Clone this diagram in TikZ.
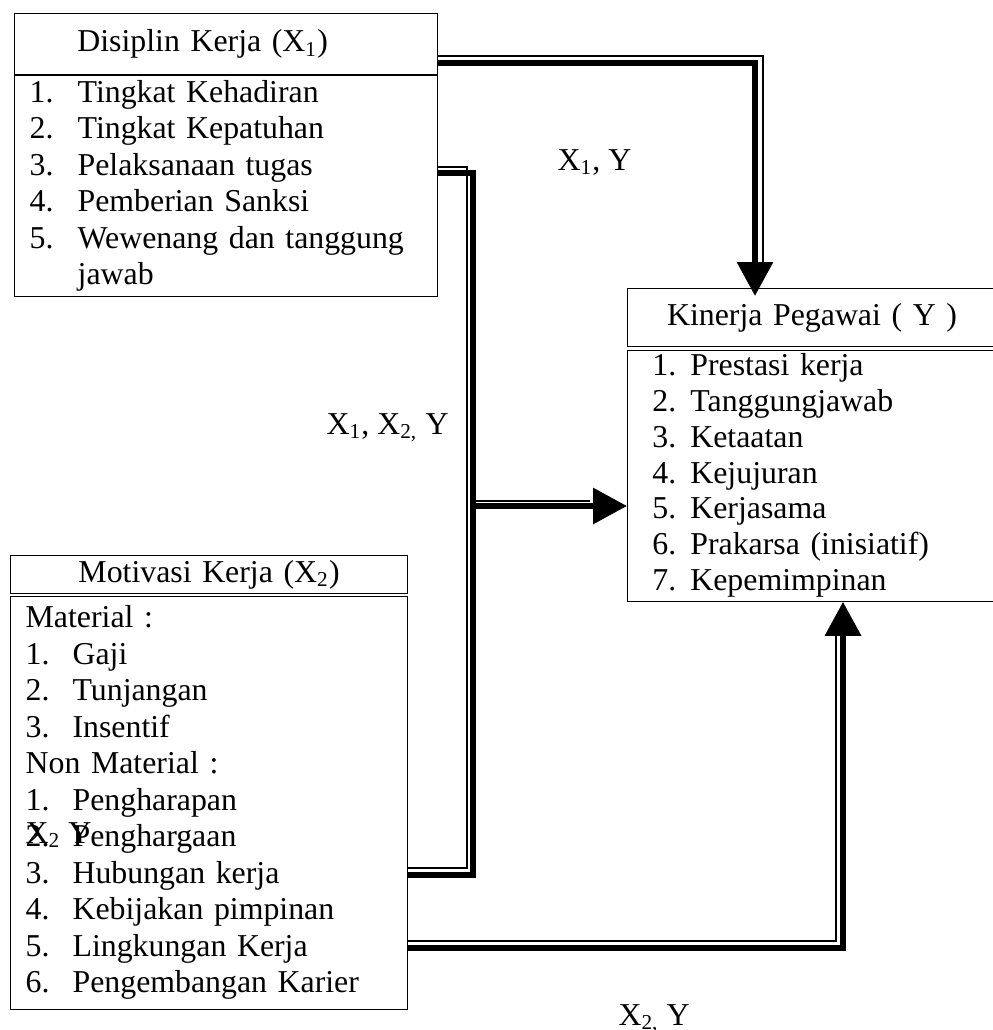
\documentclass[tikz,border=0pt]{standalone}
\usepackage{fontspec}
\setmainfont{Liberation Serif}
\usetikzlibrary{positioning,arrows.meta}

\begin{document}
\begin{tikzpicture}[
  x=0.377pt, y=-0.377pt,
  font=\fontsize{12}{13.75}\selectfont,
  head/.style={draw, anchor=north west, inner sep=0pt, align=center},
  body/.style={draw, anchor=north west, inner ysep=0pt, inner xsep=5.7pt, align=left},
  lbl/.style={anchor=base west, inner sep=0pt},
  thn/.style={line width=0.5pt},
  thk/.style={line width=2.3pt},
  arr/.style={thk, -{Triangle[length=12.8pt, width=13.2pt]}}]
\useasboundingbox (0,0) rectangle (992,1030);
% variable boxes
\node[head, text width=159.5pt, minimum height=23pt, align=left] (x1head) at (14,13) {\hspace*{23.7pt}Disiplin Kerja (X\textsubscript{1})};
\node[body, text width=148.1pt, minimum height=83.3pt, below=0pt of x1head.south west, anchor=north west] (x1body) {%
  \begin{tabular}{@{}p{18.1pt}@{}l@{}}
  1. & Tingkat Kehadiran\\
  2. & Tingkat Kepatuhan\\
  3. & Pelaksanaan tugas\\
  4. & Pemberian Sanksi\\
  5. & Wewenang dan tanggung\\
     & jawab
  \end{tabular}};
\node[head, text width=139.1pt, minimum height=21.9pt] (yhead) at (627,288) {Kinerja Pegawai ( Y )};
\node[body, font=\fontsize{12}{13.5}\selectfont, inner xsep=9.4pt, text width=120.3pt, minimum height=93.9pt, below=1.1pt of yhead.south west, anchor=north west] (ybody) {%
  \begin{tabular}{@{}p{14.3pt}@{}l@{}}
  1. & Prestasi kerja\\
  2. & Tanggungjawab\\
  3. & Ketaatan\\
  4. & Kejujuran\\
  5. & Kerjasama\\
  6. & Prakarsa (inisiatif)\\
  7. & Kepemimpinan
  \end{tabular}};
\node[head, text width=149.7pt, minimum height=14.3pt] (x2head) at (10,555) {Motivasi Kerja (X\textsubscript{2})};
\node[body, text width=138.3pt, minimum height=155.7pt, below=0.75pt of x2head.south west, anchor=north west] (x2body) {%
  \begin{tabular}{@{}p{17.7pt}@{}l@{}}
  \multicolumn{2}{@{}l@{}}{Material :}\\
  1. & Gaji\\
  2. & Tunjangan\\
  3. & Insentif\\
  \multicolumn{2}{@{}l@{}}{Non Material :}\\
  1. & Pengharapan\\
  2. & Penghargaan\\
  3. & Hubungan kerja\\
  4. & Kebijakan pimpinan\\
  5. & Lingkungan Kerja\\
  6. & Pengembangan Karier
  \end{tabular}};
% X1 -> Y
\draw[thn] (x1head.east |- 0,56) -| (763,266);
\draw[arr, shorten >=-3pt] (x1head.east |- 0,63) -| (755,0 |- yhead.north);
% X1, X2 -> Y
\draw[thn] (x1body.east |- 0,167) -| (467,868) -- (x2body.east |- 0,868);
\draw[thk] (x1body.east |- 0,173) -| (473,875) -- (x2body.east |- 0,875);
\draw[thn] (476,501) -- (590,501);
\draw[arr] (473,506) -- (ybody.west |- 0,506);
% X2 -> Y
\draw[thn] (x2body.east |- 0,941) -| (836,632);
\draw[arr] (x2body.east |- 0,948) -| (843,0 |- ybody.south);
% path labels
\node[lbl] (l1) at (557,170) {X\textsubscript{1}, Y};
\node[lbl] (l2) at (326,434) {X\textsubscript{1}, X\textsubscript{2,} Y};
\node[lbl] (l3) at (25,843) {X\textsubscript{2} Y};
\node[lbl] (l4) at (618,1025) {X\textsubscript{2,} Y};
\end{tikzpicture}
\end{document}
